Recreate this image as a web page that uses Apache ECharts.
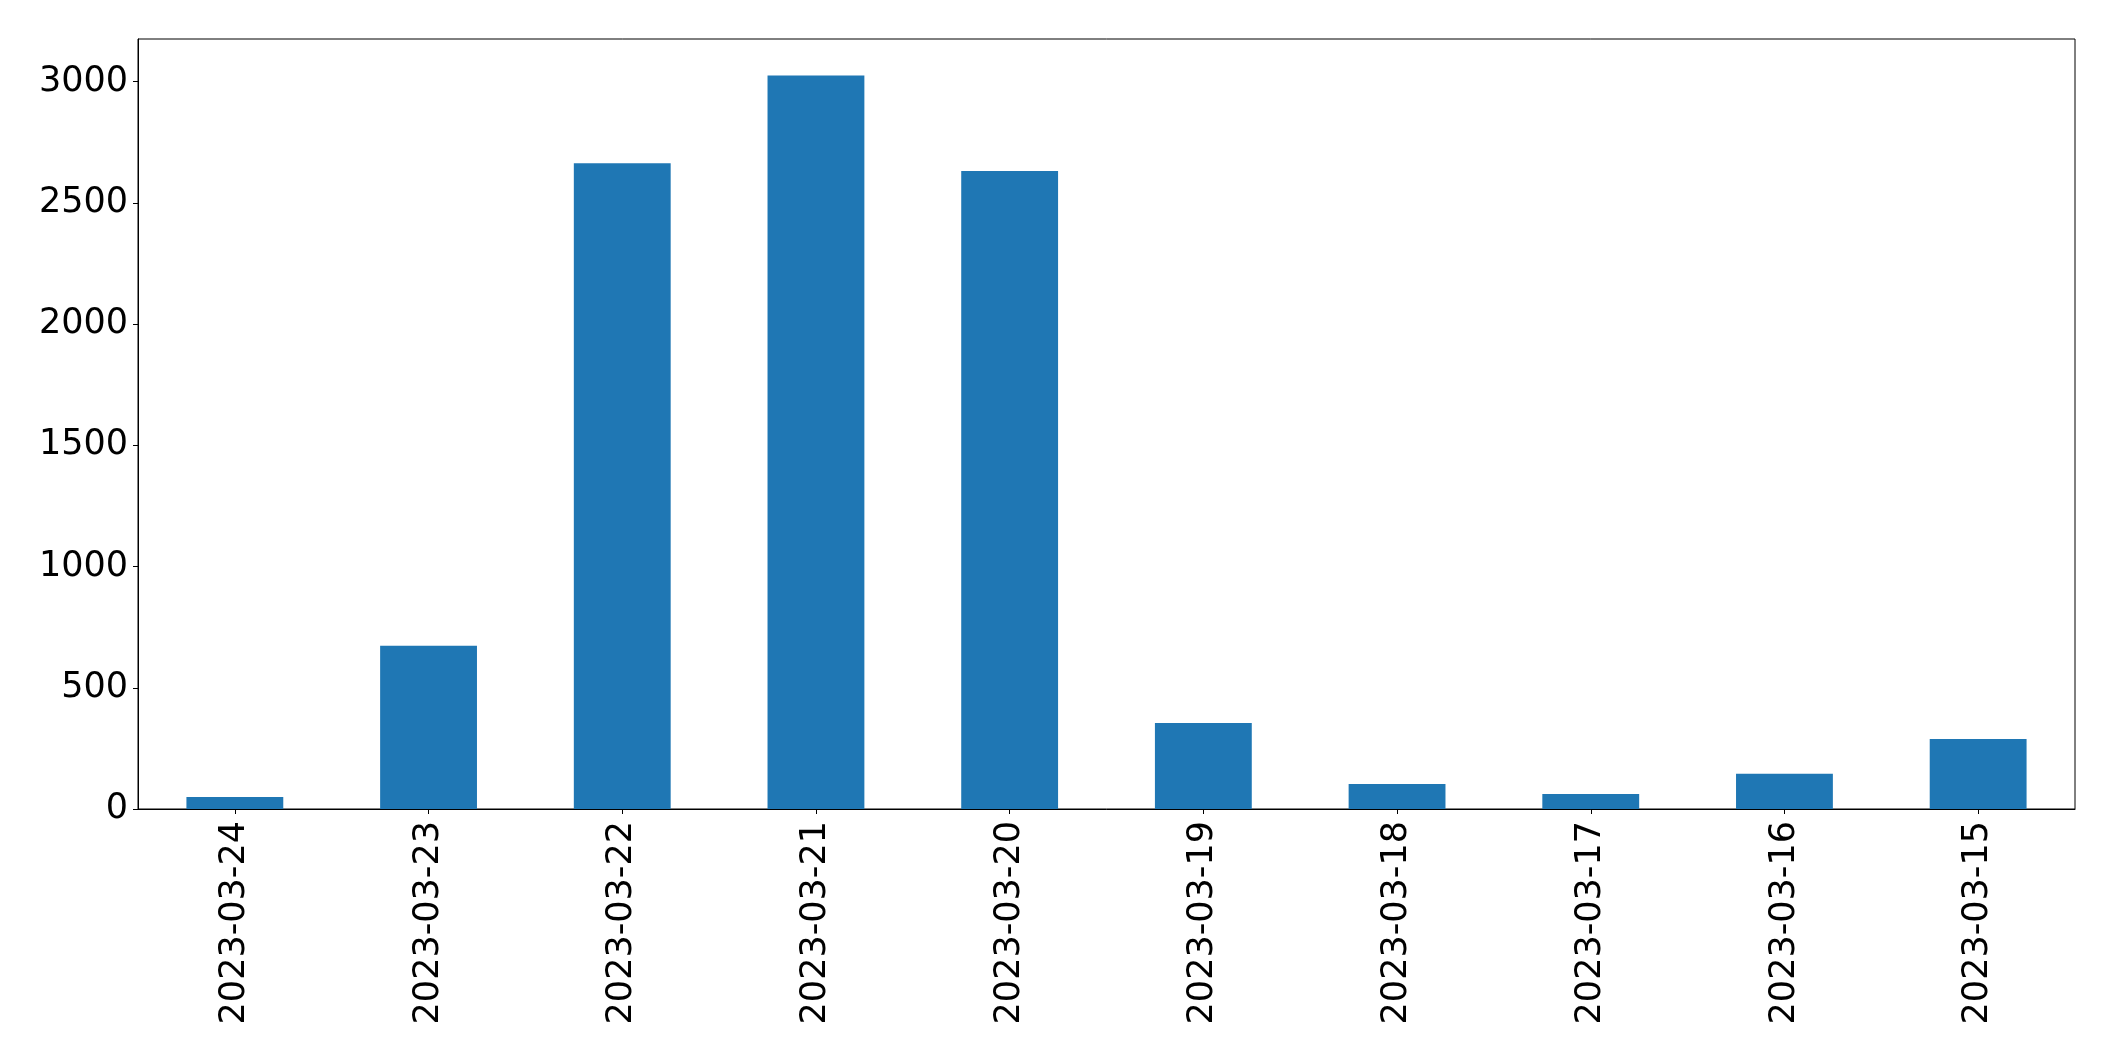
<!DOCTYPE html>
<html>
<head>
<meta charset="utf-8">
<script src="https://cdn.jsdelivr.net/npm/echarts@6/dist/echarts.min.js"></script>
<style>
html,body{margin:0;padding:0;background:#fff;}
#chart{width:2115px;height:1061px;}
</style>
</head>
<body>
<div id="chart"></div>
<script>
const categories = ['2023-03-24','2023-03-23','2023-03-22','2023-03-21','2023-03-20','2023-03-19','2023-03-18','2023-03-17','2023-03-16','2023-03-15'];
const values = [50, 673, 2663, 3025, 2632, 355, 103, 62, 145, 289];
const yTicks = [0, 500, 1000, 1500, 2000, 2500, 3000];
const yMax = 3176;

const FONT = 'DejaVu Sans';
const chart = echarts.init(document.getElementById('chart'), null, {renderer: 'canvas'});
chart.setOption({
  animation: false,
  backgroundColor: '#ffffff',
  grid: {left: 138, top: 39, right: 40, bottom: 252, show: true, borderColor: '#000', borderWidth: 1, backgroundColor: 'transparent'},
  xAxis: {
    type: 'category',
    data: categories,
    boundaryGap: true,
    axisLine: {show: true, lineStyle: {color: '#000', width: 1}},
    axisTick: {show: true, alignWithLabel: true, length: 5, lineStyle: {color: '#000', width: 1}},
    axisLabel: {rotate: 90, margin: 12, color: '#000', fontFamily: FONT, fontSize: 35, interval: 0},
    splitLine: {show: false}
  },
  yAxis: {
    type: 'value',
    min: 0,
    max: yMax,
    axisLine: {show: true, lineStyle: {color: '#000', width: 1}},
    axisTick: {show: true, length: 5, lineStyle: {color: '#000', width: 1}, customValues: yTicks},
    axisLabel: {margin: 10, color: '#000', fontFamily: FONT, fontSize: 35, customValues: yTicks, formatter: function (v) { return String(v); }},
    splitLine: {show: false}
  },
  series: [{
    type: 'bar',
    data: values,
    barWidth: '50%',
    itemStyle: {color: '#1f77b4'}
  }]
});
</script>
</body>
</html>
